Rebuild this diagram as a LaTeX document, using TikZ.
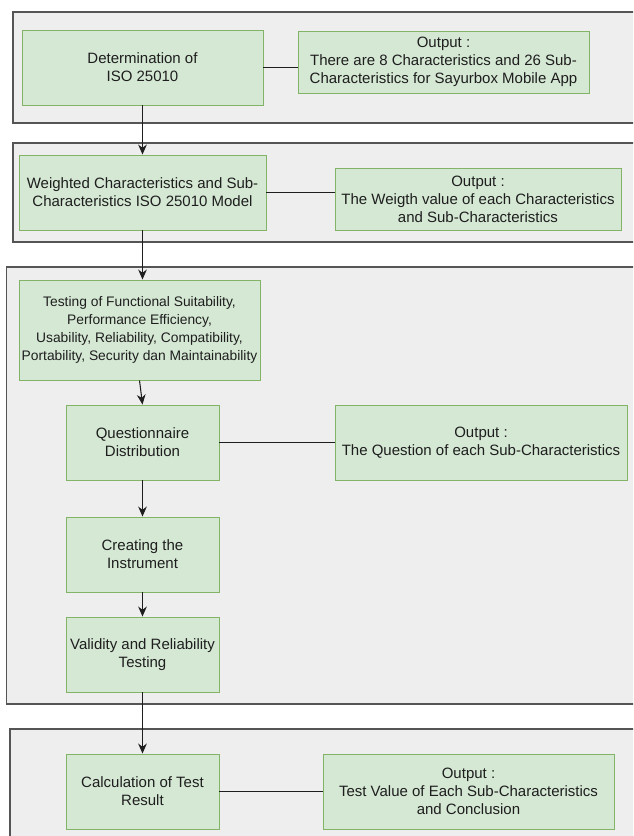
\documentclass[tikz,border=0pt]{standalone}
\usepackage{fontspec}
\setmainfont{Liberation Sans}
\usepackage{xcolor}
\usetikzlibrary{arrows.meta, positioning}

\definecolor{boxfill}{HTML}{D5E8D4}
\definecolor{boxline}{HTML}{82B366}
\definecolor{panelfill}{HTML}{EEEEEE}
\definecolor{panelline}{HTML}{555555}
\definecolor{inkgray}{HTML}{1E1E1E}

\begin{document}
\begin{tikzpicture}[x=0.03cm, y=-0.03cm,
    panel/.style={draw=panelline, fill=panelfill, line width=0.9pt},
    flowbox/.style={draw=boxline, fill=boxfill, line width=0.8pt, align=center,
        inner sep=2pt, text=inkgray, font=\fontsize{12.8}{15.3}\selectfont},
    flowarrow/.style={draw=inkgray, line width=0.9pt, -{Stealth[length=3mm, width=2.6mm]}},
    flowline/.style={draw=inkgray, line width=0.9pt}]

    \useasboundingbox (0,0) rectangle (633,836);
    \clip (0,0) rectangle (633,836);

    % Phase panels
    \draw[panel] (13,12) rectangle (650,123);
    \draw[panel] (13,143) rectangle (650,242);
    \draw[panel] (6.5,267) rectangle (650,704);
    \draw[panel] (10,729) rectangle (650,860);

    % Steps on the left
    \node[flowbox, minimum width=7.23cm, minimum height=2.25cm] (determine) at (142.5,67.5) {Determination of\\ISO 25010};
    \node[flowbox, minimum width=7.41cm, minimum height=2.25cm] (weighted) at (142.5,192.5) {Weighted Characteristics and Sub-\\Characteristics ISO 25010 Model};
    \node[flowbox, minimum width=7.23cm, minimum height=3cm, font=\fontsize{11.8}{15.3}\selectfont] (testing) at (139.5,330)
        {Testing of Functional Suitability,\\Performance Efficiency,\\Usability, Reliability, Compatibility,\\Portability, Security dan Maintainability};
    \node[flowbox, minimum width=4.59cm, minimum height=2.25cm] (question) at (142.5,442.5) {Questionnaire\\Distribution};
    \node[flowbox, minimum width=4.59cm, minimum height=2.25cm] (instrument) at (142.5,554.5) {Creating the\\Instrument};
    \node[flowbox, minimum width=4.59cm, minimum height=2.25cm] (validity) at (142.5,654.5) {Validity and Reliability\\Testing};
    \node[flowbox, minimum width=4.59cm, minimum height=2.25cm] (calculate) at (142.5,791.5) {Calculation of Test\\Result};

    % Outputs on the right
    \node[flowbox, minimum width=8.73cm, minimum height=1.86cm] (out1) at (443.5,62) {Output :\\There are 8 Characteristics and 26 Sub-\\Characteristics for Sayurbox Mobile App};
    \node[flowbox, minimum width=8.58cm, minimum height=1.86cm] (out2) at (478,199) {Output :\\The Weigth value of each Characteristics\\and Sub-Characteristics};
    \node[flowbox, minimum width=8.76cm, minimum height=2.25cm] (out3) at (481,442.5) {Output :\\The Question of each Sub-Characteristics};
    \node[flowbox, minimum width=8.73cm, minimum height=2.25cm] (out4) at (468.5,791.5) {Output :\\Test Value of Each Sub-Characteristics\\and Conclusion};

    % Flow
    \draw[flowarrow] (determine) -- (weighted);
    \draw[flowarrow] (weighted.south) -- (weighted.south |- testing.north);
    \draw[flowarrow] (testing.south) -- (question.north);
    \draw[flowarrow] (question) -- (instrument);
    \draw[flowarrow] (instrument) -- (validity);
    \draw[flowarrow] (validity) -- (calculate);

    % Links to outputs
    \draw[flowline] (determine.east) -- (determine.east -| out1.west);
    \draw[flowline] (weighted.east) -- (weighted.east -| out2.west);
    \draw[flowline] (question) -- (out3);
    \draw[flowline] (calculate) -- (out4);
\end{tikzpicture}
\end{document}
